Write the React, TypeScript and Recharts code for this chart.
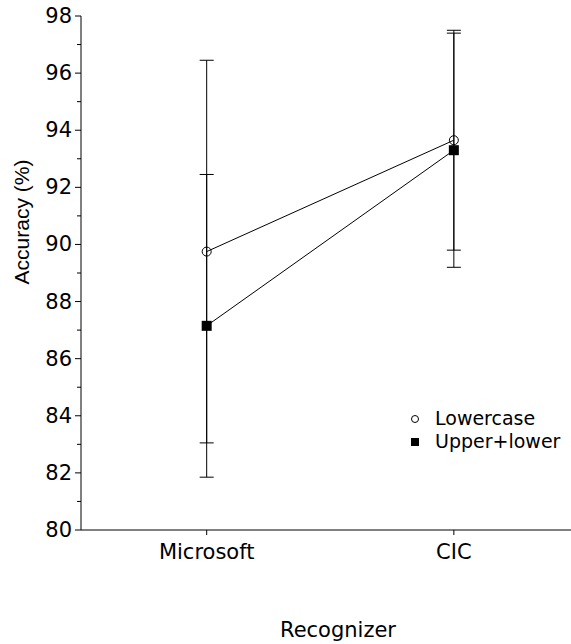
import React from 'react';
import { LineChart, Line, XAxis, YAxis, ErrorBar, Legend } from 'recharts';

const categories = ['Microsoft', 'CIC'];
const lowercase = [89.75, 93.65];
const lowercaseErr = [6.7, 3.85];
const upperLower = [87.15, 93.3];
const upperLowerErr = [5.3, 4.1];
const yTicks = [80, 81, 82, 83, 84, 85, 86, 87, 88, 89, 90, 91, 92, 93, 94, 95, 96, 97, 98];

const data = categories.map((name, i) => ({
  x: i + 1,
  name,
  lowercase: lowercase[i],
  lowercaseErr: lowercaseErr[i],
  upperLower: upperLower[i],
  upperLowerErr: upperLowerErr[i],
}));

const FONT = '"DejaVu Sans", sans-serif';
const FONT2 = '"Liberation Sans Narrow", "Liberation Sans", Arial, sans-serif';
const FS = 21;

const YTick = (props: any) => {
  const { x, y, payload } = props;
  const v = payload.value;
  const major = v % 2 === 0;
  return (
    <g>
      <line x1={x - (major ? 6 : 4)} x2={x} y1={y} y2={y} stroke="#000" strokeWidth={1} />
      {major && (
        <text x={x - 9} y={y} textAnchor="end" dominantBaseline="central" fontFamily={FONT} fontSize={FS} fill="#000">
          {v}
        </text>
      )}
    </g>
  );
};

const XTick = (props: any) => {
  const { x, y, payload } = props;
  const idx = payload.value - 1;
  return (
    <g>
      <line x1={x} x2={x} y1={y} y2={y + 5} stroke="#000" strokeWidth={1} />
      <text x={x} y={y + 22} textAnchor="middle" dominantBaseline="central" fontFamily={FONT} fontSize={FS} fill="#000">
        {categories[idx]}
      </text>
    </g>
  );
};

const SquareDot = (props: any) => {
  const { cx, cy } = props;
  if (cx == null || cy == null) return null;
  return <rect x={cx - 5} y={cy - 5} width={10} height={10} fill="#000" />;
};

const CircleDot = (props: any) => {
  const { cx, cy } = props;
  if (cx == null || cy == null) return null;
  return <circle cx={cx} cy={cy} r={4.5} fill="none" stroke="#000" strokeWidth={1} />;
};

const LegendContent = () => (
  <div style={{ fontFamily: FONT, fontSize: 19, color: '#000', lineHeight: '23px', whiteSpace: 'nowrap' }}>
    <div style={{ display: 'flex', alignItems: 'center', height: 23 }}>
      <svg width={12} height={12} style={{ marginRight: 14 }}>
        <circle cx={6} cy={6} r={3.5} fill="none" stroke="#000" strokeWidth={1} />
      </svg>
      <span>Lowercase</span>
    </div>
    <div style={{ display: 'flex', alignItems: 'center', height: 23 }}>
      <svg width={12} height={12} style={{ marginRight: 14 }}>
        <rect x={2} y={2} width={8} height={8} fill="#000" />
      </svg>
      <span>Upper+lower</span>
    </div>
  </div>
);

export default function App() {
  return (
    <div style={{ position: 'absolute', left: 0, top: 0, background: '#fff' }}>
      <LineChart width={571} height={644} data={data} margin={{ top: 16, right: 0, bottom: 0, left: 0 }}>
        <XAxis
          dataKey="x"
          type="number"
          domain={[0.4915, 2.474]}
          ticks={[1, 2]}
          allowDataOverflow
          height={114}
          stroke="#000"
          tickLine={false}
          tickSize={0}
          tickMargin={0}
          tick={<XTick />}
          label={{ value: 'Recognizer', position: 'insideBottom', offset: 7, dx: 12, fontFamily: FONT, fontSize: FS, fill: '#000' }}
        />
        <YAxis
          type="number"
          domain={[80, 98]}
          ticks={yTicks}
          interval={0}
          width={81}
          stroke="#000"
          tickLine={false}
          tickSize={0}
          tickMargin={0}
          tick={<YTick />}
          label={{ value: 'Accuracy (%)', angle: -90, position: 'center', dx: -19, dy: -51, fontFamily: FONT2, fontSize: 21, fill: '#000' }}
        />
        <Legend
          layout="horizontal"
          verticalAlign="middle"
          align="center"
          content={<LegendContent />}
          wrapperStyle={{ left: 409, top: 407, width: 160 }}
        />
        <Line dataKey="lowercase" stroke="#000" strokeWidth={1} dot={<CircleDot />} activeDot={false} isAnimationActive={false} legendType="circle">
          <ErrorBar dataKey="lowercaseErr" direction="y" width={7} stroke="#000" strokeWidth={1} />
        </Line>
        <Line dataKey="upperLower" stroke="#000" strokeWidth={1} dot={<SquareDot />} activeDot={false} isAnimationActive={false} legendType="square">
          <ErrorBar dataKey="upperLowerErr" direction="y" width={7} stroke="#000" strokeWidth={1} />
        </Line>
      </LineChart>
    </div>
  );
}
